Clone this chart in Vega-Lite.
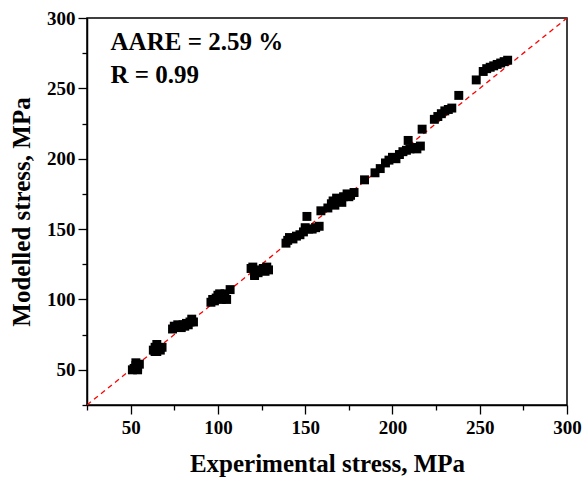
{
  "$schema": "https://vega.github.io/schema/vega-lite/v6.json",
  "width": 480,
  "height": 387,
  "autosize": {"type": "none"},
  "padding": {"left": 87, "top": 18, "right": 15, "bottom": 77},
  "background": "white",
  "config": {
    "view": {"stroke": "black", "strokeWidth": 1.5},
    "font": "Liberation Serif"
  },
  "encoding": {
    "x": {
      "field": "x", "type": "quantitative",
      "scale": {"domain": [25, 300], "nice": false, "zero": false},
      "axis": {
        "title": "Experimental stress, MPa",
        "values": [25, 50, 75, 100, 125, 150, 175, 200, 225, 250, 275, 300],
        "labelExpr": "datum.value % 50 === 0 ? datum.label : ''",
        "grid": false,
        "domainColor": "black", "domainWidth": 1.5,
        "tickColor": "black", "tickWidth": 1.3,
        "tickSize": {"condition": {"test": "datum.value % 50 !== 0", "value": 5}, "value": 9},
        "labelFont": "Liberation Serif", "labelFontWeight": "bold", "labelFontSize": 19, "labelColor": "black",
        "labelPadding": 4, "labelFlush": false,
        "titleFont": "Liberation Serif", "titleFontWeight": "bold", "titleFontSize": 25, "titleColor": "black",
        "titlePadding": 14
      }
    },
    "y": {
      "field": "y", "type": "quantitative",
      "scale": {"domain": [25, 300], "nice": false, "zero": false},
      "axis": {
        "title": "Modelled stress, MPa",
        "values": [25, 50, 75, 100, 125, 150, 175, 200, 225, 250, 275, 300],
        "labelExpr": "datum.value % 50 === 0 ? datum.label : ''",
        "grid": false,
        "domainColor": "black", "domainWidth": 1.5,
        "tickColor": "black", "tickWidth": 1.3,
        "tickSize": {"condition": {"test": "datum.value % 50 !== 0", "value": 5}, "value": 9},
        "labelFont": "Liberation Serif", "labelFontWeight": "bold", "labelFontSize": 19, "labelColor": "black",
        "labelPadding": 3, "labelFlush": false,
        "titleFont": "Liberation Serif", "titleFontWeight": "bold", "titleFontSize": 25, "titleColor": "black",
        "titlePadding": 12
      }
    }
  },
  "layer": [
    {
      "data": {"values": [{"x": 25, "y": 25}, {"x": 300, "y": 300}]},
      "mark": {"type": "line", "color": "#ff0000", "strokeWidth": 1.3, "strokeDash": [5, 4], "clip": true}
    },
    {
      "data": {"values": [
        {"x": 52, "y": 51}, {"x": 53, "y": 53}, {"x": 54, "y": 52}, {"x": 53, "y": 55}, {"x": 55, "y": 54}, {"x": 51, "y": 50}, {"x": 54, "y": 50},
        {"x": 63, "y": 64}, {"x": 64, "y": 66}, {"x": 65, "y": 68}, {"x": 66, "y": 65}, {"x": 67, "y": 64}, {"x": 64, "y": 63}, {"x": 68, "y": 66}, {"x": 65, "y": 63},
        {"x": 74, "y": 79}, {"x": 75, "y": 81}, {"x": 77, "y": 82}, {"x": 79, "y": 80}, {"x": 80, "y": 82}, {"x": 82, "y": 83}, {"x": 84, "y": 84}, {"x": 85, "y": 86}, {"x": 81, "y": 81}, {"x": 83, "y": 82}, {"x": 86, "y": 84},
        {"x": 96, "y": 98}, {"x": 97, "y": 100}, {"x": 99, "y": 101}, {"x": 100, "y": 103}, {"x": 101, "y": 104}, {"x": 103, "y": 102}, {"x": 105, "y": 100}, {"x": 104, "y": 104}, {"x": 107, "y": 107}, {"x": 98, "y": 99}, {"x": 102, "y": 100},
        {"x": 119, "y": 122}, {"x": 120, "y": 123}, {"x": 121, "y": 118}, {"x": 122, "y": 120}, {"x": 124, "y": 121}, {"x": 126, "y": 122}, {"x": 128, "y": 123}, {"x": 129, "y": 121}, {"x": 127, "y": 120}, {"x": 121, "y": 117}, {"x": 123, "y": 119},
        {"x": 139, "y": 140}, {"x": 140, "y": 142}, {"x": 141, "y": 144}, {"x": 143, "y": 143}, {"x": 145, "y": 145}, {"x": 147, "y": 146}, {"x": 149, "y": 148}, {"x": 150, "y": 151}, {"x": 152, "y": 150}, {"x": 154, "y": 150}, {"x": 156, "y": 151}, {"x": 158, "y": 152}, {"x": 151, "y": 159}, {"x": 159, "y": 163},
        {"x": 163, "y": 165}, {"x": 165, "y": 168}, {"x": 166, "y": 170}, {"x": 168, "y": 172}, {"x": 170, "y": 171}, {"x": 172, "y": 173}, {"x": 174, "y": 175}, {"x": 176, "y": 174}, {"x": 178, "y": 176}, {"x": 167, "y": 167}, {"x": 171, "y": 169}, {"x": 175, "y": 173},
        {"x": 184, "y": 185},
        {"x": 190, "y": 190}, {"x": 193, "y": 193}, {"x": 196, "y": 197}, {"x": 198, "y": 199}, {"x": 200, "y": 201}, {"x": 202, "y": 200}, {"x": 204, "y": 203}, {"x": 206, "y": 205}, {"x": 208, "y": 206}, {"x": 210, "y": 207}, {"x": 212, "y": 208}, {"x": 214, "y": 207}, {"x": 216, "y": 209}, {"x": 209, "y": 213}, {"x": 217, "y": 221},
        {"x": 224, "y": 228}, {"x": 226, "y": 230}, {"x": 228, "y": 232}, {"x": 230, "y": 234}, {"x": 232, "y": 235}, {"x": 234, "y": 236}, {"x": 238, "y": 245}, {"x": 248, "y": 256},
        {"x": 252, "y": 262}, {"x": 254, "y": 264}, {"x": 256, "y": 265}, {"x": 258, "y": 266}, {"x": 260, "y": 267}, {"x": 262, "y": 268}, {"x": 264, "y": 269}, {"x": 266, "y": 270}
      ]},
      "mark": {"type": "point", "shape": "square", "filled": true, "color": "black", "opacity": 1, "size": 80}
    },
    {
      "data": {"values": [
        {"x": 38.5, "y": 283.3, "label": "AARE = 2.59 %"},
        {"x": 38.5, "y": 259.4, "label": "R = 0.99"}
      ]},
      "mark": {"type": "text", "align": "left", "baseline": "middle", "font": "Liberation Serif", "fontWeight": "bold", "fontSize": 25, "color": "black"},
      "encoding": {"text": {"field": "label", "type": "nominal"}}
    }
  ]
}
